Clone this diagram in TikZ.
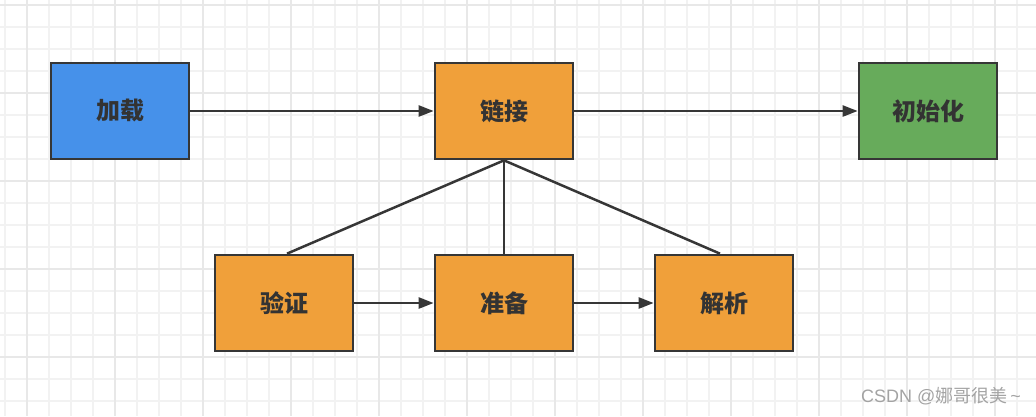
\documentclass[tikz,border=0pt]{standalone}
\usepackage{fontspec}
\newfontfamily\cjk{Noto Sans CJK SC}
\newfontfamily\latinsans{Liberation Sans}
\usetikzlibrary{arrows.meta}
\definecolor{loadblue}{HTML}{4691EA}
\definecolor{linkorange}{HTML}{F0A03A}
\definecolor{initgreen}{HTML}{67AB5B}
\definecolor{linegray}{HTML}{363636}
\definecolor{textgray}{HTML}{333333}
\definecolor{gridminor}{HTML}{F2F2F2}
\definecolor{gridmajor}{HTML}{E8E8E8}
\definecolor{markgray}{HTML}{A3A3A3}
\tikzset{
  box/.style={draw=linegray, line width=2.7pt, minimum width=138pt,
    minimum height=96pt, inner sep=0pt, text=textgray,
    font=\cjk\bfseries\fontsize{24}{28}\selectfont},
  link/.style={draw=linegray, line width=2.5pt},
  flow/.style={link, -{Triangle[length=15pt,width=11pt]}},
}
\begin{document}
\begin{tikzpicture}[x=1pt, y=-1pt]
\useasboundingbox (0,0) rectangle (1036,416);

% grid paper
\foreach \x in {5,27,...,1035}
  \draw[gridminor, line width=1.6pt] (\x,0) -- (\x,416);
\foreach \y in {4.7,26.7,...,416}
  \draw[gridminor, line width=1.6pt] (0,\y) -- (1036,\y);
\foreach \x in {27,115,...,1035}
  \draw[gridmajor, line width=1.6pt] (\x,0) -- (\x,416);
\foreach \y in {4.7,92.7,...,416}
  \draw[gridmajor, line width=1.6pt] (0,\y) -- (1036,\y);

% top row
\node[box, fill=loadblue] (load) at (120,111) {加载};
\node[box, fill=linkorange] (linking) at (504,111) {链接};
\node[box, fill=initgreen] (init) at (928,111) {初始化};

% bottom row (steps of linking)
\node[box, fill=linkorange] (verify) at (284,303) {验证};
\node[box, fill=linkorange] (prepare) at (504,303) {准备};
\node[box, fill=linkorange] (resolve) at (724,303) {解析};

% connectors
\draw[flow] (load) -- (linking);
\draw[flow] (linking) -- (init);
\draw[link] (linking.south) -- ([xshift=3pt]verify.north);
\draw[link] (linking.south) -- (prepare.north);
\draw[link] (linking.south) -- ([xshift=-4pt]resolve.north);
\draw[flow] (verify) -- (prepare);
\draw[flow] (prepare) -- (resolve);

% watermark
\node[anchor=east, text=markgray, inner sep=0pt,
  font=\fontsize{18}{20}\selectfont] (mark) at (1021,396)
  {\latinsans CSDN @\cjk 娜哥很美\latinsans\,\textasciitilde};
\end{tikzpicture}
\end{document}
